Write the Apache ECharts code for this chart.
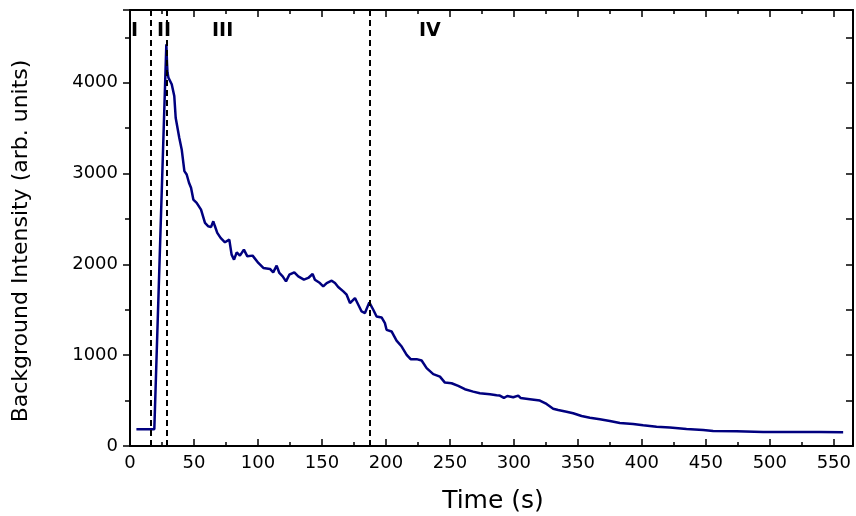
<!DOCTYPE html>
<html><head><meta charset="utf-8">
<script src="https://cdn.jsdelivr.net/npm/echarts@6/dist/echarts.min.js"></script>
<style>html,body{margin:0;padding:0;background:#fff}#c{width:856px;height:516px}</style>
</head><body><div id="c"></div>
<script>
var timeS = [5, 19, 28.4, 28.9, 29.3, 30.0, 32.6, 34.6, 35.7, 37.2, 38.5, 40.4, 42.5, 44.3, 46.1, 47.7, 49.5, 52.1, 55.5, 58.6, 61.2, 63.3, 65.1, 66.4, 68.2, 70.8, 74.2, 77.6, 79.4, 81.3, 83.4, 85.9, 89, 91.7, 95.8, 100.3, 104.2, 109.4, 111.9, 114.6, 116.7, 119.3, 121.9, 124.5, 128.4, 131.5, 135.9, 139.3, 142.7, 144.5, 148.4, 151, 153.7, 157.6, 160.2, 162.7, 166.7, 169.3, 171.9, 175.8, 178.4, 181, 183.6, 187, 190.1, 192.7, 196.6, 199.2, 200.5, 204.4, 208.3, 212.3, 216.2, 219.3, 224, 227.9, 231.8, 237, 242.2, 246.1, 251.3, 256.5, 261.7, 268.2, 273.4, 281.3, 286.5, 289, 292.2, 294.8, 299.5, 303.4, 305.2, 312.5, 320.3, 325.5, 330.7, 334.6, 341.1, 346.3, 352.9, 359.4, 367.2, 375, 382.8, 393.2, 401, 411.5, 421.9, 434.9, 447.9, 455.7, 474, 494.8, 513, 539, 557.3];
var intensity = [184, 184, 4423, 4221, 4111, 4056, 3982, 3853, 3614, 3596, 3394, 3265, 3026, 2989, 2898, 2843, 2713, 2677, 2603, 2456, 2419, 2410, 2474, 2419, 2346, 2291, 2243, 2272, 2107, 2052, 2132, 2096, 2162, 2088, 2096, 2015, 1960, 1949, 1912, 1985, 1905, 1867, 1812, 1886, 1912, 1867, 1831, 1850, 1894, 1831, 1794, 1757, 1794, 1820, 1794, 1750, 1702, 1666, 1574, 1629, 1555, 1481, 1464, 1581, 1500, 1426, 1415, 1353, 1279, 1261, 1160, 1095, 1004, 956, 956, 941, 857, 791, 764, 698, 691, 662, 625, 599, 581, 570, 559, 555, 529, 551, 537, 555, 529, 515, 500, 463, 411, 397, 378, 360, 331, 312, 294, 276, 254, 243, 228, 213, 204, 187, 176, 165, 162, 154, 154, 154, 151];
var regionBounds = [16.5, 28.7, 187];
var regionLabels = ['I', 'II', 'III', 'IV'];
var xTitle = 'Time (s)';
var yTitle = 'Background Intensity (arb. units)';

var chart = echarts.init(document.getElementById('c'), null, {renderer: 'canvas'});
var seriesData = timeS.map(function (t, i) { return [t, intensity[i]]; });
var fontFam = 'DejaVu Sans';
var labelPos = [[131, 22], [157, 22], [212, 22], [419, 22]];
var plainNum = function (v) { return String(v); };
var tickStyle = {color: '#000', width: 1.5};

chart.setOption({
  animation: false,
  grid: {left: 130, right: 3, top: 10, bottom: 70, containLabel: false, outerBoundsMode: 'none'},
  xAxis: [{
    type: 'value', min: 0, max: 565, interval: 50, position: 'bottom',
    axisLine: {show: true, onZero: false, lineStyle: {color: '#000', width: 2}},
    axisTick: {inside: true, length: 7, lineStyle: tickStyle},
    minorTick: {show: true, splitNumber: 2, length: 4, lineStyle: tickStyle},
    axisLabel: {fontFamily: fontFam, fontSize: 18, color: '#000', margin: 8, showMaxLabel: false, formatter: plainNum},
    splitLine: {show: false}
  }, {
    type: 'value', min: 0, max: 565, interval: 50, position: 'top',
    axisLine: {show: true, onZero: false, lineStyle: {color: '#000', width: 2}},
    axisTick: {inside: true, length: 7, lineStyle: tickStyle},
    minorTick: {show: true, splitNumber: 2, length: 4, lineStyle: tickStyle},
    axisLabel: {show: false}, splitLine: {show: false}
  }],
  yAxis: [{
    type: 'value', min: 0, max: 4800, interval: 1000, position: 'left',
    axisLine: {show: true, onZero: false, lineStyle: {color: '#000', width: 2}},
    axisTick: {show: true, inside: false, length: 7, lineStyle: tickStyle},
    minorTick: {show: true, splitNumber: 2, length: 5, lineStyle: tickStyle},
    axisLabel: {fontFamily: fontFam, fontSize: 18, color: '#000', margin: 12, showMaxLabel: false, formatter: plainNum},
    splitLine: {show: false}
  }, {
    type: 'value', min: 0, max: 4800, interval: 1000, position: 'right',
    axisLine: {show: true, onZero: false, lineStyle: {color: '#000', width: 2}},
    axisTick: {show: true, inside: true, length: 7, lineStyle: tickStyle},
    minorTick: {show: true, splitNumber: 2, length: 7, lineStyle: tickStyle},
    axisLabel: {show: false}, splitLine: {show: false}
  }],
  series: [{
    type: 'line', data: seriesData, xAxisIndex: 0, yAxisIndex: 0,
    showSymbol: false, symbol: 'none',
    lineStyle: {color: '#00007f', width: 2.5},
    markLine: {
      silent: true, symbol: ['none', 'none'], label: {show: false},
      lineStyle: {color: '#000', type: [6, 4], width: 2},
      data: regionBounds.map(function (v) { return {xAxis: v}; })
    }
  }],
  graphic: regionLabels.map(function (txt, i) {
    return {type: 'text', left: labelPos[i][0], top: labelPos[i][1],
      style: {text: txt, font: 'bold 19px "DejaVu Sans"', fill: '#000'}};
  }).concat([{
    type: 'text', x: 21, y: 241, rotation: Math.PI / 2,
    style: {text: yTitle, font: '22px "DejaVu Sans"', fill: '#000', textAlign: 'center', textVerticalAlign: 'middle'}
  }, {
    type: 'text', x: 493, y: 501,
    style: {text: xTitle, font: '25px "DejaVu Sans"', fill: '#000', textAlign: 'center', textVerticalAlign: 'middle'}
  }])
});
</script></body></html>
